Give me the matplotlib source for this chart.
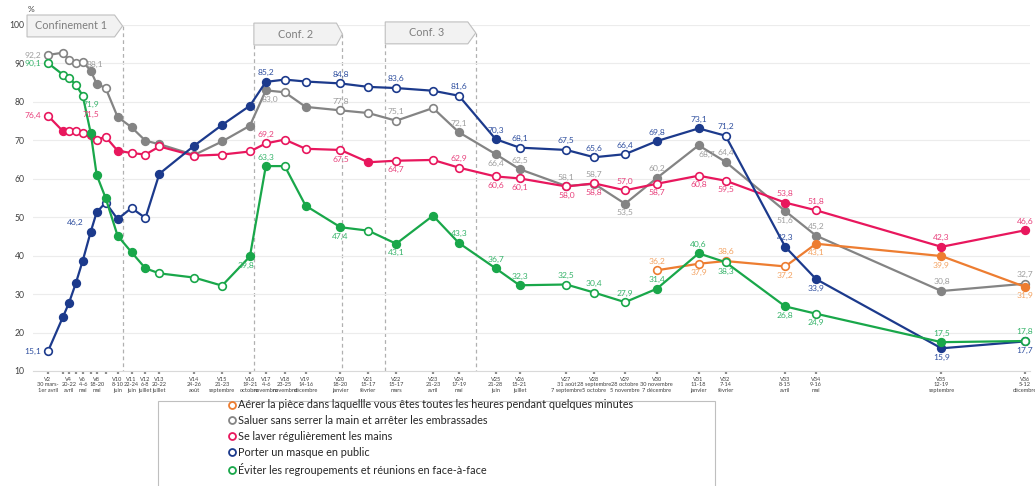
import numpy as np
import pandas as pd
import matplotlib
matplotlib.use("Agg")
import matplotlib.pyplot as plt
import matplotlib.dates as mdates
from matplotlib.lines import Line2D
from matplotlib.patches import Polygon, Rectangle

plt.rcParams['font.family'] = ['Lato', 'DejaVu Sans']

# vagues d'enquête
vagues = ['V2', 'V3', 'V4', 'V5', 'V6', 'V7', 'V8', 'V9', 'V10', 'V11', 'V12', 'V13',
          'V14', 'V15', 'V16', 'V17', 'V18', 'V19', 'V20', 'V21', 'V22', 'V23', 'V24',
          'V25', 'V26', 'V27', 'V28', 'V29', 'V30', 'V31', 'V32', 'V33', 'V34', 'V35', 'V36']
dates = ['2020-03-31', '2020-04-15', '2020-04-21', '2020-04-28', '2020-05-05', '2020-05-13',
         '2020-05-19', '2020-05-28', '2020-06-09', '2020-06-23', '2020-07-07', '2020-07-21',
         '2020-08-25', '2020-09-22', '2020-10-20', '2020-11-05', '2020-11-24', '2020-12-15',
         '2021-01-19', '2021-02-16', '2021-03-16', '2021-04-22', '2021-05-18', '2021-06-24',
         '2021-07-18', '2021-09-03', '2021-10-01', '2021-11-01', '2021-12-03', '2022-01-14',
         '2022-02-10', '2022-04-11', '2022-05-12', '2022-09-15', '2022-12-08']
periodes = {'V2': '30 mars-\n1er avril', 'V4': '20-22\navril', 'V6': '4-6\nmai', 'V8': '18-20\nmai',
            'V10': '8-10\njuin', 'V11': '22-24\njuin', 'V12': '6-8\njuillet', 'V13': '20-22\njuillet',
            'V14': '24-26\naoût', 'V15': '21-23\nseptembre', 'V16': '19-21\noctobre',
            'V17': '4-6\nnovembre', 'V18': '23-25\nnovembre', 'V19': '14-16\ndécembre',
            'V20': '18-20\njanvier', 'V21': '15-17\nfévrier', 'V22': '15-17\nmars',
            'V23': '21-23\navril', 'V24': '17-19\nmai', 'V25': '21-28\njuin', 'V26': '15-21\njuillet',
            'V27': '31 août\n7 septembre', 'V28': '28 septembre\n5 octobre',
            'V29': '28 octobre\n5 novembre', 'V30': '30 novembre\n7 décembre',
            'V31': '11-18\njanvier', 'V32': '7-14\nfévrier', 'V33': '8-15\navril', 'V34': '9-16\nmai',
            'V35': '12-19\nseptembre', 'V36': '5-12\ndécembre'}

# valeurs (%)
aerer = [np.nan] * 28 + [36.2, 37.9, 38.6, 37.2, 43.1, 39.9, 31.9]
saluer = [92.2, 92.8, 91.0, 90.1, 90.5, 88.1, 84.7, 83.6, 76.1, 73.4, 69.9, 69.0, 66.2, 69.7,
          73.8, 83.0, 82.5, 78.7, 77.8, 77.1, 75.1, 78.4, 72.1, 66.4, 62.5, 58.1, 58.7, 53.5,
          60.2, 68.7, 64.4, 51.6, 45.2, 30.8, 32.7]
laver = [76.4, 72.4, 72.3, 72.3, 71.9, 71.5, 70.2, 70.9, 67.3, 66.7, 66.3, 68.4, 66.0, 66.3,
         67.1, 69.2, 70.2, 67.8, 67.5, 64.3, 64.7, 64.9, 62.9, 60.6, 60.1, 58.0, 58.8, 57.0,
         58.7, 60.8, 59.5, 53.8, 51.8, 42.3, 46.6]
masque = [15.1, 24.0, 27.6, 32.8, 38.7, 46.2, 51.3, 53.8, 49.5, 52.4, 49.8, 61.3, 68.6, 74.0,
          79.0, 85.2, 85.8, 85.3, 84.8, 83.9, 83.6, 82.9, 81.6, 70.3, 68.1, 67.5, 65.6, 66.4,
          69.8, 73.1, 71.2, 42.3, 33.9, 15.9, 17.7]
eviter = [90.1, 87.1, 86.2, 84.5, 81.6, 71.9, 61.0, 55.0, 45.2, 40.9, 36.7, 35.4, 34.3, 32.2,
          39.8, 63.3, 63.3, 53.0, 47.4, 46.5, 43.1, 50.4, 43.3, 36.7, 32.3, 32.5, 30.4, 27.9,
          31.4, 40.6, 38.3, 26.8, 24.9, 17.5, 17.8]

# évolutions significatives (points pleins)
signif_aerer = ['V34', 'V35', 'V36']
signif_saluer = ['V7', 'V8', 'V10', 'V11', 'V12', 'V13', 'V15', 'V16', 'V17', 'V19', 'V24', 'V25',
                 'V26', 'V27', 'V29', 'V30', 'V31', 'V32', 'V33', 'V34', 'V35']
signif_laver = ['V3', 'V7', 'V10', 'V21', 'V33', 'V35', 'V36']
signif_masque = ['V3', 'V4', 'V5', 'V6', 'V7', 'V8', 'V10', 'V13', 'V14', 'V15', 'V16', 'V17',
                 'V25', 'V30', 'V31', 'V33', 'V34', 'V35', 'V36']
signif_eviter = ['V7', 'V8', 'V9', 'V10', 'V11', 'V12', 'V16', 'V17', 'V19', 'V20', 'V22', 'V23',
                 'V24', 'V25', 'V26', 'V30', 'V31', 'V33', 'V35']

noms = ['Aérer la pièce dans laquellle vous êtes toutes les heures pendant quelques minutes',
        'Saluer sans serrer la main et arrêter les embrassades',
        'Se laver régulièrement les mains',
        'Porter un masque en public',
        'Éviter les regroupements et réunions en face-à-face']

# confinements : début cadre, début flèche, pointe
confinements = [('Confinement 1', '2020-03-10', '2020-06-06', '2020-06-14'),
                ('Conf. 2', '2020-10-24', '2021-01-15', '2021-01-21'),
                ('Conf. 3', '2021-03-05', '2021-05-27', '2021-06-04')]

# placement des étiquettes
A, B, L = (0, 4), (0, -4), (-5, 0)
pos_aerer = {'V30': A, 'V31': B, 'V32': A, 'V33': B, 'V34': B, 'V35': B, 'V36': B}
pos_saluer = {'V2': L, 'V7': (3, 2), 'V17': (3, -4), 'V20': A, 'V22': A, 'V24': A, 'V25': B,
              'V26': A, 'V27': A, 'V28': A, 'V29': B, 'V30': A, 'V31': (6, -4), 'V32': A,
              'V33': B, 'V34': A, 'V35': A, 'V36': A}
pos_laver = {'V2': L, 'V7': (0, 12), 'V17': A, 'V20': B, 'V22': B, 'V24': A, 'V25': B, 'V26': B,
             'V27': B, 'V28': B, 'V29': A, 'V30': B, 'V31': B, 'V32': B, 'V33': A, 'V34': A,
             'V35': A, 'V36': A}
pos_masque = {'V2': L, 'V7': (-5, 4), 'V17': A, 'V20': A, 'V22': A, 'V24': A, 'V25': A, 'V26': A,
              'V27': A, 'V28': A, 'V29': A, 'V30': A, 'V31': A, 'V32': A, 'V33': A, 'V34': B,
              'V35': B, 'V36': B}
pos_eviter = {'V2': L, 'V7': (0, 18), 'V16': (-3, -4), 'V17': A, 'V20': B, 'V22': B, 'V24': A,
              'V25': A, 'V26': A, 'V27': A, 'V28': A, 'V29': A, 'V30': A, 'V31': A, 'V32': B,
              'V33': B, 'V34': B, 'V35': A, 'V36': A}

x = mdates.date2num(pd.to_datetime(dates))

fig = plt.figure(figsize=(10.35, 4.86), dpi=100)
ax = fig.add_axes([33 / 1035, 115 / 486, 997 / 1035, 346 / 486])

series = [
    (aerer, signif_aerer, pos_aerer, '#ed7d31', '#f3a261', 2),
    (saluer, signif_saluer, pos_saluer, '#848484', '#9d9d9d', 1),
    (laver, signif_laver, pos_laver, '#e8175d', '#e8417c', 3),
    (masque, signif_masque, pos_masque, '#1c3a8c', '#2f4f9f', 4),
    (eviter, signif_eviter, pos_eviter, '#19a74a', '#36b36a', 5),
]
for vals, signif, pos, c, ctxt, z in series:
    vals = np.array(vals, dtype=float)
    ax.plot(x, vals, color=c, lw=1.6, zorder=z)
    plein = np.array([v in signif for v in vagues])
    ok = ~np.isnan(vals)
    ax.plot(x[plein & ok], vals[plein & ok], ls='none', marker='o', ms=5.5,
            mfc=c, mec=c, mew=1.2, zorder=z + 0.1)
    ax.plot(x[~plein & ok], vals[~plein & ok], ls='none', marker='o', ms=5.5,
            mfc='white', mec=c, mew=1.2, zorder=z + 0.1)
    for v, (dx, dy) in pos.items():
        i = vagues.index(v)
        ha = 'right' if dx < 0 and dy == 0 else 'center'
        va = 'bottom' if dy > 0 else ('top' if dy < 0 else 'center')
        if dx < 0 and dy != 0:
            ha = 'right' if dx <= -5 else 'center'
        ax.annotate(f'{vals[i]:.1f}'.replace('.', ','), (x[i], vals[i]), xytext=(dx, dy),
                    textcoords='offset points', ha=ha, va=va, fontsize=6.1, color=ctxt,
                    zorder=10)

# cadres des confinements
for nom, d0, d1, d2 in confinements:
    x0, x1, x2 = mdates.date2num(pd.to_datetime([d0, d1, d2]))
    if nom == 'Confinement 1':
        y0, y1 = 96.9, 102.6
    elif nom == 'Conf. 2':
        y0, y1 = 94.8, 100.5
    else:
        y0, y1 = 95.1, 100.8
    ym = (y0 + y1) / 2
    ax.add_patch(Polygon([(x0, y0), (x0, y1), (x1, y1), (x2, ym), (x1, y0)], closed=True,
                         fc='#f2f2f2', ec='#bfbfbf', lw=0.8, clip_on=False, zorder=6))
    ax.text((x0 + x1) / 2, ym, nom, ha='center', va='center', fontsize=7.8,
            color='#7f7f7f', zorder=7)
    ax.plot([x2, x2], [ym, 10], color='#b0b0b0', lw=0.9, ls=(0, (3, 2.5)), zorder=0.5,
            clip_on=False)
    if nom != 'Confinement 1':
        ax.plot([x0, x0], [y0, 10], color='#b0b0b0', lw=0.9, ls=(0, (3, 2.5)), zorder=0.5,
                clip_on=False)

ax.set_xlim(mdates.date2num(pd.Timestamp('2020-03-16')), mdates.date2num(pd.Timestamp('2022-12-13')))
ax.set_ylim(10, 100)
ax.set_yticks(range(10, 101, 10))
ax.yaxis.grid(True, color='#ececec', lw=0.8)
ax.set_axisbelow(True)
for s in ['top', 'right', 'left']:
    ax.spines[s].set_visible(False)
ax.spines['bottom'].set_color('#d9d9d9')
ax.spines['bottom'].set_linewidth(0.8)
ax.tick_params(axis='y', length=0, labelsize=6.2, labelcolor='#404040', pad=6)
ax.set_xticks(x)
ax.set_xticklabels([v + '\n' + periodes[v] if v in periodes else '' for v in vagues],
                   fontsize=4.1, color='#404040', linespacing=1.15)
ax.tick_params(axis='x', length=2, width=1.6, color='#8c8c8c', pad=2)
fig.text(28 / 1035, 1 - 10 / 486, '%', fontsize=6, color='#404040', ha='left', va='center')

# légende
couleurs = ['#ed7d31', '#848484', '#e8175d', '#1c3a8c', '#19a74a']
poignees = [Line2D([], [], ls='none', marker='o', ms=5, mfc='white', mec=c, mew=1.3)
            for c in couleurs]
fig.add_artist(Rectangle((158 / 1035, -0.01), 557 / 1035, (486 - 401) / 486 + 0.01,
                         transform=fig.transFigure, fc='none', ec='#bfbfbf', lw=0.8))
fig.legend(poignees, noms, loc='upper left', bbox_to_anchor=(222 / 1035, 1 - 395 / 486),
           frameon=False, fontsize=7.8, handletextpad=0.1, handlelength=1.0,
           labelspacing=0.45, borderaxespad=0, labelcolor='#262626')

fig.savefig('out.png', dpi=100)
